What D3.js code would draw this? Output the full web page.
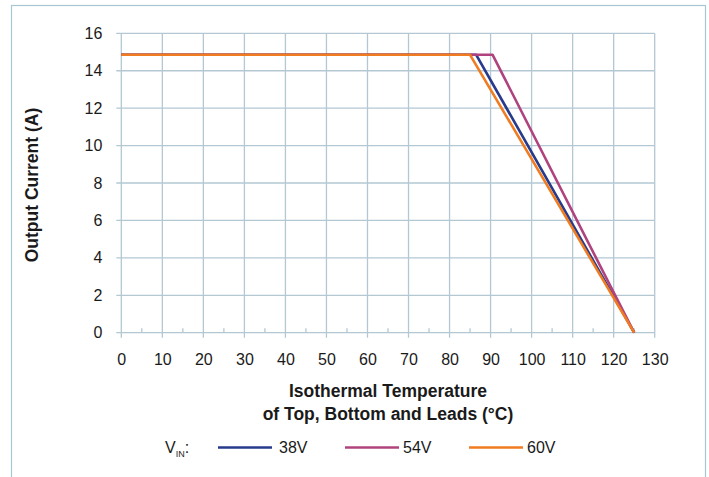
<!DOCTYPE html>
<html>
<head>
<meta charset="utf-8">
<script src="https://cdn.jsdelivr.net/npm/d3@7"></script>
<style>
  body { margin: 0; background: #fff; }
  text { font-family: "Liberation Sans", Arial, sans-serif; fill: #1a1a1a; }
</style>
</head>
<body>
<svg id="chart" width="709" height="477"></svg>
<script>
// data
var temps38 = [0, 86.5, 125];
var amps38  = [14.85, 14.85, 0];
var temps54 = [0, 90.5, 125];
var amps54  = [14.85, 14.85, 0];
var temps60 = [0, 85, 125];
var amps60  = [14.85, 14.85, 0];
var seriesNames = ["38V", "54V", "60V"];
var seriesColors = ["#283a8c", "#b0437e", "#f07c22"];
var xTicks = d3.range(0, 131, 10);
var yTicks = d3.range(0, 17, 2);

var series = [
  { name: seriesNames[0], color: seriesColors[0], pts: d3.zip(temps38, amps38) },
  { name: seriesNames[1], color: seriesColors[1], pts: d3.zip(temps54, amps54) },
  { name: seriesNames[2], color: seriesColors[2], pts: d3.zip(temps60, amps60) }
];

var svg = d3.select("#chart");
var grid = "#b3c8d3";

// outer frame
svg.append("rect")
  .attr("x", 11.5).attr("y", 5.5)
  .attr("width", 694).attr("height", 480)
  .attr("fill", "none").attr("stroke", "#a9c6d3").attr("stroke-width", 1.2);

var x = d3.scaleLinear().domain([0, 130]).range([121.3, 654.7]);
var y = d3.scaleLinear().domain([0, 16]).range([332.7, 33.3]);

// gridlines
svg.append("g").selectAll("line").data(xTicks).enter().append("line")
  .attr("x1", function(d) { return x(d); }).attr("x2", function(d) { return x(d); })
  .attr("y1", y(16)).attr("y2", y(0) + 5)
  .attr("stroke", grid).attr("stroke-width", 1.3);

svg.append("g").selectAll("line").data(yTicks).enter().append("line")
  .attr("x1", x(0) - 5).attr("x2", x(130))
  .attr("y1", function(d) { return y(d); }).attr("y2", function(d) { return y(d); })
  .attr("stroke", grid).attr("stroke-width", 1.3);

// little minor ticks on the x axis
svg.append("g").selectAll("line").data(d3.range(5, 130, 10)).enter().append("line")
  .attr("x1", function(d) { return x(d); }).attr("x2", function(d) { return x(d); })
  .attr("y1", y(0) - 4.5).attr("y2", y(0))
  .attr("stroke", grid).attr("stroke-width", 1.3);

// axes labels via d3 axis, lines hidden
var xAxis = svg.append("g")
  .attr("transform", "translate(0," + y(0) + ")")
  .call(d3.axisBottom(x).tickValues(xTicks).tickSize(0).tickPadding(21));
var yAxis = svg.append("g")
  .attr("transform", "translate(" + x(0) + ",0)")
  .call(d3.axisLeft(y).tickValues(yTicks).tickSize(0).tickPadding(19));
[xAxis, yAxis].forEach(function(a) {
  a.select(".domain").remove();
  a.selectAll("text").attr("fill", "#1a1a1a")
    .style("font-family", "Liberation Sans, Arial, sans-serif").style("font-size", "16px");
});

// lines
var line = d3.line()
  .x(function(d) { return x(d[0]); })
  .y(function(d) { return y(d[1]); });

svg.append("g").selectAll("path").data(series).enter().append("path")
  .attr("d", function(d) { return line(d.pts); })
  .attr("fill", "none")
  .attr("stroke", function(d) { return d.color; })
  .attr("stroke-width", 2.6)
  .attr("stroke-linejoin", "round");

// axis titles
svg.append("text")
  .attr("transform", "translate(38,185) rotate(-90)")
  .attr("text-anchor", "middle")
  .style("font-size", "17.5px").style("font-weight", "bold")
  .text("Output Current (A)");

svg.append("text")
  .attr("x", 388).attr("y", 396.5)
  .attr("text-anchor", "middle")
  .style("font-size", "17.5px").style("font-weight", "bold")
  .text("Isothermal Temperature");
svg.append("text")
  .attr("x", 388).attr("y", 420)
  .attr("text-anchor", "middle")
  .style("font-size", "17.5px").style("font-weight", "bold")
  .text("of Top, Bottom and Leads (°C)");

// legend
var leg = svg.append("g");
var vin = leg.append("text").attr("x", 165).attr("y", 453).style("font-size", "16px");
vin.append("tspan").text("V");
vin.append("tspan").attr("dy", 4).style("font-size", "9px").text("IN");
vin.append("tspan").attr("dy", -4).text(":");

var legX = [218, 345, 469];
var legGap = [61, 58, 58];
series.forEach(function(s, i) {
  leg.append("line")
    .attr("x1", legX[i]).attr("x2", legX[i] + 54)
    .attr("y1", 447.5).attr("y2", 447.5)
    .attr("stroke", s.color).attr("stroke-width", 2.6);
  leg.append("text")
    .attr("x", legX[i] + legGap[i]).attr("y", 453)
    .style("font-size", "16px")
    .text(s.name);
});
</script>
</body>
</html>
